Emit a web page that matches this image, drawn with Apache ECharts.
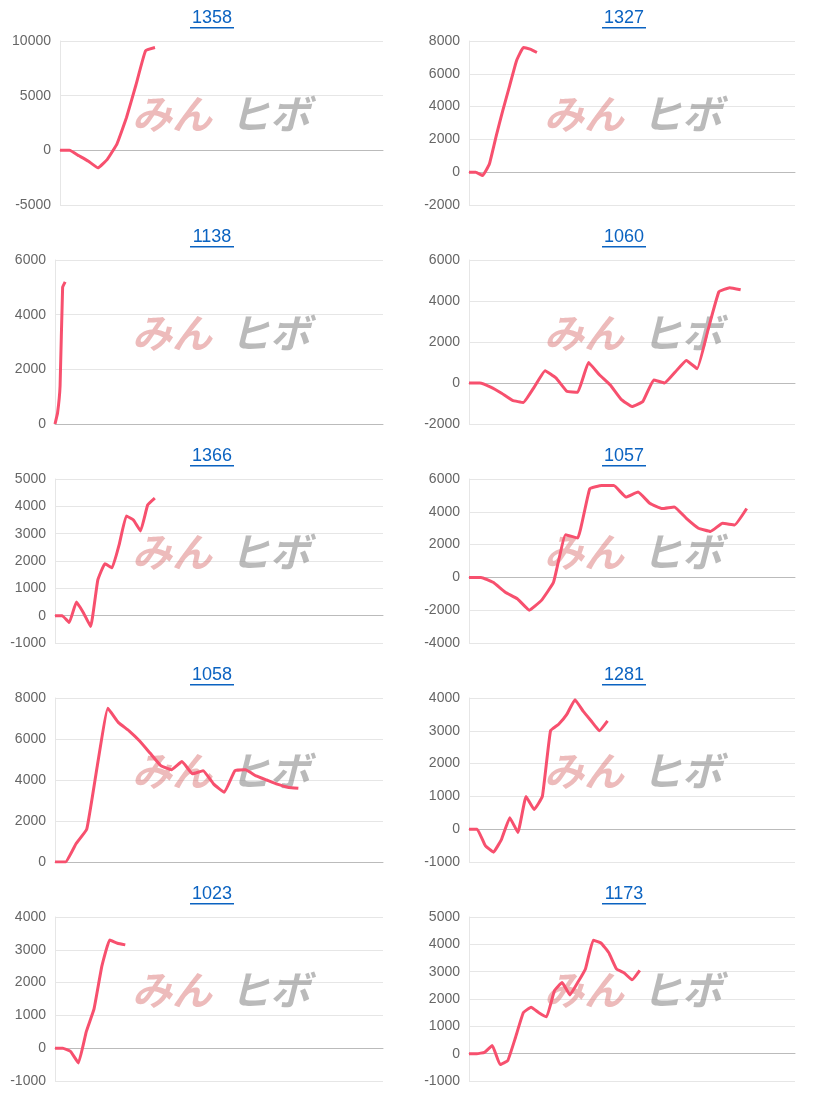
<!DOCTYPE html>
<html>
<head>
<meta charset="utf-8">
<script src="https://cdn.jsdelivr.net/npm/echarts@6/dist/echarts.min.js"></script>
<style>
  html, body { margin: 0; padding: 0; background: #fff; }
  #chart { width: 824px; height: 1095px; }
</style>
</head>
<body>
<div id="chart"></div>
<script>
// chart titles, left column top-to-bottom then right column
const titles = ['1358', '1138', '1366', '1058', '1023', '1327', '1060', '1057', '1281', '1173'];

// total x slots per chart (the plotting period), estimated from point spacing
const slots = [35, 130, 47, 32, 43, 49, 31, 28, 41, 43];

const s1358 = [0, 0, -500, -1000, -1600, -800, 600, 3000, 6000, 9100, 9400];
const s1138 = [0, 400, 1400, 5000, 5200];
const s1366 = [0, 0, -250, 500, 100, -400, 1300, 1900, 1750, 2600, 3650, 3500, 3100, 4050, 4300];
const s1058 = [0, 0, 900, 1600, 4700, 7500, 6800, 6400, 5900, 5300, 4700, 4500, 4900, 4300, 4450, 3800, 3400, 4450, 4500, 4200, 4000, 3800, 3650, 3600];
const s1023 = [0, 0, -100, -450, 500, 1200, 2500, 3300, 3200, 3150];
const s1327 = [0, 0, -200, 500, 2200, 3800, 5300, 6800, 7600, 7500, 7300];
const s1060 = [0, 0, -200, -500, -850, -950, -200, 600, 250, -400, -450, 1000, 400, -100, -800, -1150, -900, 150, 0, 550, 1100, 700, 2600, 4450, 4650, 4550];
const s1057 = [0, 0, -300, -900, -1300, -2000, -1400, -300, 2600, 2400, 5400, 5600, 5600, 4900, 5200, 4500, 4200, 4300, 3600, 3000, 2800, 3300, 3200, 4200];
const s1281 = [0, 0, -500, -700, -300, 350, -100, 1000, 600, 1000, 3000, 3200, 3500, 3950, 3600, 3300, 3000, 3300];
const s1173 = [0, 0, 50, 300, -400, -250, 600, 1500, 1700, 1500, 1350, 2300, 2600, 2150, 2600, 3100, 4150, 4050, 3700, 3100, 2950, 2700, 3050];

const seriesData = [s1358, s1138, s1366, s1058, s1023, s1327, s1060, s1057, s1281, s1173];

// y axis [min, max, interval]
const yRanges = [
  [-5000, 10000, 5000], [0, 6000, 2000], [-1000, 5000, 1000], [0, 8000, 2000], [-1000, 4000, 1000],
  [-2000, 8000, 2000], [-2000, 6000, 2000], [-4000, 6000, 2000], [-1000, 4000, 1000], [-1000, 5000, 1000]
];

const cellH = 219;
const grids = [], xAxes = [], yAxes = [], series = [], graphics = [];

titles.forEach((t, i) => {
  const col = i < 5 ? 0 : 1;
  const row = i % 5;
  const top = row * cellH;
  const left = col === 0 ? (i === 0 ? 60 : 55) : 469;
  grids.push({ left: left, width: (col === 0 ? 383 : 795) - left, top: top + 41, height: 164 });
  xAxes.push({
    gridIndex: i, type: 'category', boundaryGap: false,
    data: Array.from({ length: slots[i] }, (_, k) => k + 1),
    axisLabel: { show: false }, axisTick: { show: false },
    axisLine: { lineStyle: { color: '#bbb' } },
    splitLine: { show: false }
  });
  const [mn, mx, iv] = yRanges[i];
  yAxes.push({
    gridIndex: i, type: 'value', min: mn, max: mx, interval: iv,
    axisLabel: { color: '#666', fontSize: 14, fontFamily: 'Arial, Liberation Sans', margin: 9, formatter: v => String(v) },
    axisLine: { show: true, lineStyle: { color: '#e6e6e6' } },
    splitLine: { lineStyle: { color: '#e6e6e6' } }
  });
  series.push({
    type: 'line', xAxisIndex: i, yAxisIndex: i, data: seriesData[i],
    showSymbol: false, smooth: 0.1,
    lineStyle: { color: '#f7506e', width: 3 }, z: 5
  });

  const cx = col * 412 + 212;
  graphics.push({
    type: 'text', x: cx, y: top + 18,
    style: { text: t, fill: '#0b63c1', font: '18px Arial, Liberation Sans', align: 'center', verticalAlign: 'middle' }
  });
  graphics.push({
    type: 'rect', shape: { x: cx - 22, y: top + 27, width: 44, height: 1.5 },
    style: { fill: '#0b63c1' }
  });
  // watermark
  const wx = col * 412 + 132;
  graphics.push({
    type: 'text', x: wx, y: top + 114, z: 1,
    style: { text: 'みん', fill: 'rgba(220,120,120,0.5)', font: 'italic bold 40px "Noto Sans CJK JP"', verticalAlign: 'middle' }
  });
  graphics.push({
    type: 'text', x: wx + 98, y: top + 114, z: 1,
    style: { text: 'ヒボ', fill: 'rgba(140,140,140,0.6)', font: 'italic bold 40px "Noto Sans CJK JP"', verticalAlign: 'middle' }
  });
});

const chart = echarts.init(document.getElementById('chart'));
chart.setOption({
  animation: false,
  grid: grids, xAxis: xAxes, yAxis: yAxes, series: series,
  graphic: graphics
});
</script>
</body>
</html>
